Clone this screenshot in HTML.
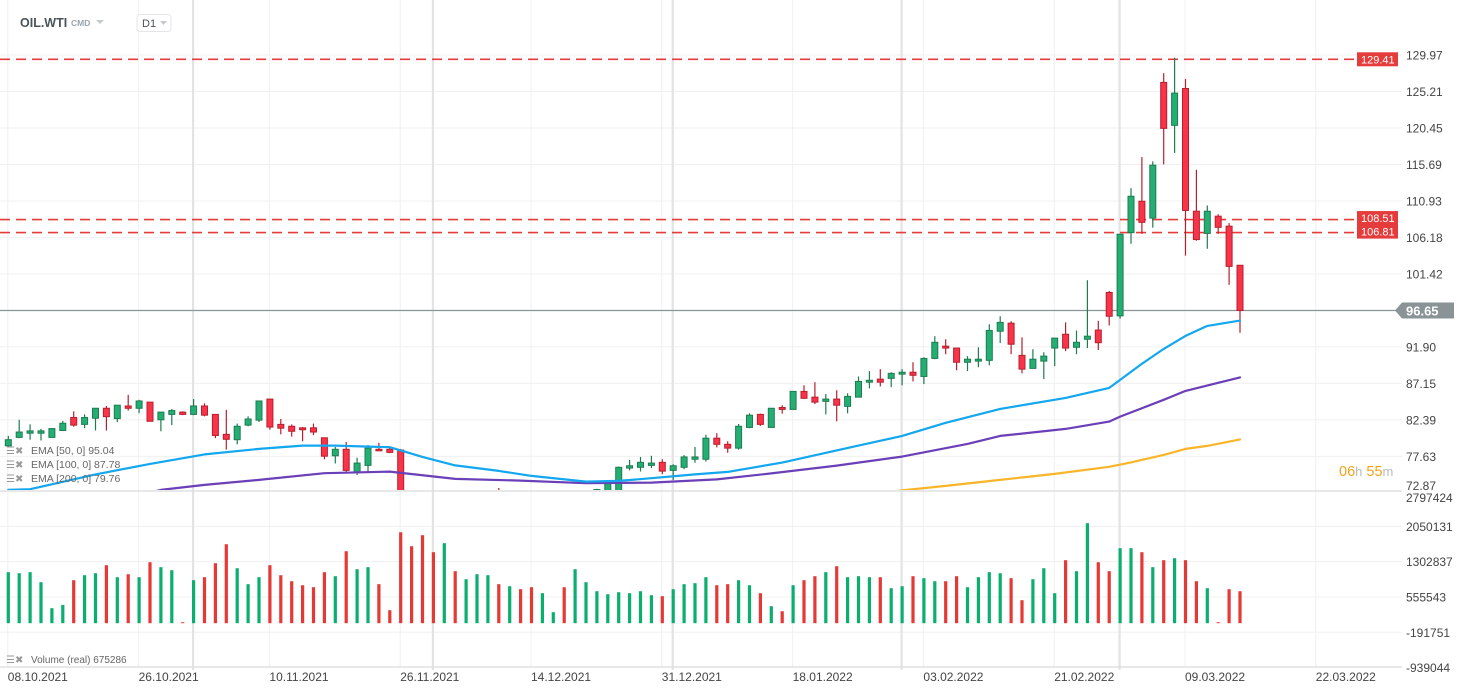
<!DOCTYPE html>
<html><head><meta charset="utf-8"><style>
html,body{margin:0;padding:0;background:#fff;width:1467px;height:692px;overflow:hidden;font-family:"Liberation Sans",sans-serif;}
svg{display:block}
</style></head><body>
<svg id="chart" width="1467" height="692" xmlns="http://www.w3.org/2000/svg" font-family="Liberation Sans, sans-serif">
<defs><clipPath id="priceClip"><rect x="0" y="0" width="1402" height="490"/></clipPath>
<clipPath id="volClip"><rect x="0" y="492" width="1402" height="175"/></clipPath></defs>
<g id="grid"></g>
<g id="lines"></g>
<g id="candles" clip-path="url(#priceClip)"></g>
<g id="emas" clip-path="url(#priceClip)"></g>
<g id="volume" clip-path="url(#volClip)"></g>
<g id="axes"></g>
<g id="overlay">
  <text x="20" y="27" font-size="12.5" font-weight="bold" fill="#4a5358">OIL.WTI</text>
  <text x="71" y="26" font-size="8.5" font-weight="bold" fill="#9aa4aa">CMD</text>
  <path d="M96 20 L104 20 L100 24 Z" fill="#c4c9cc"/>
  <g>
    <rect x="137" y="14.5" width="34" height="17" rx="3" fill="#fff" stroke="#e3e6e8"/>
    <text x="142" y="27" font-size="11" fill="#4a5358">D1</text>
    <path d="M160 21 L167 21 L163.5 25 Z" fill="#c4c9cc"/>
  </g>
  <g font-size="10.5" fill="#666">
    <g><text x="6" y="454" fill="#999" font-size="10">☰✖</text><text x="31" y="454">EMA [50,  0] 95.04</text></g>
    <g><text x="6" y="468" fill="#999" font-size="10">☰✖</text><text x="31" y="468">EMA [100,  0] 87.78</text></g>
    <g><text x="6" y="482" fill="#999" font-size="10">☰✖</text><text x="31" y="482">EMA [200,  0] 79.76</text></g>
  </g>
  <g font-size="10" fill="#666">
    <text x="6" y="663" fill="#999" font-size="10">☰✖</text><text x="31" y="663">Volume  (real)  675286</text>
  </g>
  <text x="1339" y="476" font-size="14.5" fill="#f7a21b">06<tspan fill="#bbb" font-size="13">h</tspan> 55<tspan fill="#bbb" font-size="13">m</tspan></text>
</g>
</svg>
<script>
const opens=[79.0,80.1,80.65,80.65,80.1,81.0,82.7,81.8,82.6,83.9,82.55,84.2,83.9,84.7,82.4,83.1,83.4,83.1,84.2,83.1,80.5,79.8,81.7,82.35,85.1,81.8,81.55,81.35,81.35,80.05,77.7,78.55,75.5,76.45,78.55,78.55,78.45,71.5,69.8,66.5,64.0,66.5,66.0,69.2,71.2,72.3,70.6,71.5,71.2,70.3,71.0,70.5,68.2,71.0,72.4,72.6,72.5,76.1,76.2,76.45,76.85,75.8,76.2,77.25,77.25,80.0,79.2,78.7,81.4,83.1,81.4,84.0,83.75,86.1,85.35,84.8,85.1,84.15,85.35,87.3,87.7,87.8,88.35,88.6,88.05,90.4,92.0,91.75,89.9,90.05,90.15,93.95,95.0,90.8,89.1,90.05,91.75,93.55,91.85,92.9,94.1,99.0,95.95,106.8,110.9,108.7,126.4,120.8,125.6,109.6,106.7,108.95,107.65,102.55];
const highs=[80.3,82.4,81.8,81.2,81.3,82.25,83.5,83.1,83.9,84.2,84.3,85.65,85.0,84.7,83.4,83.8,83.5,85.1,84.55,83.1,83.7,81.9,82.85,84.85,85.1,82.5,81.8,81.45,81.9,80.05,78.85,79.5,77.45,79.1,79.4,78.8,78.6,72.2,70.5,68.0,67.0,67.0,69.5,71.5,72.5,73.5,71.8,72.0,71.6,71.5,71.5,71.0,71.5,72.6,73.4,74.3,76.3,77.15,77.55,77.7,77.25,76.6,77.8,78.85,80.45,80.65,79.6,81.85,83.25,83.2,83.9,84.3,86.1,86.9,87.3,85.75,86.25,85.85,88.05,88.75,89.0,88.6,89.0,89.9,90.55,93.3,92.9,91.75,90.7,91.85,94.85,95.9,95.25,93.15,91.6,91.2,93.05,95.1,94.05,100.6,95.3,99.2,106.65,112.6,116.65,116.1,127.6,129.6,126.85,115.0,110.35,109.2,108.05,102.55];
const lows=[78.9,80.0,79.8,79.7,80.1,81.0,81.5,81.3,81.0,81.0,82.1,83.6,83.25,82.2,80.9,81.7,83.0,83.0,82.85,80.0,78.5,79.2,81.55,82.1,81.1,80.5,80.2,79.6,80.4,77.25,76.7,75.55,75.2,75.55,78.3,78.05,67.8,69.0,64.5,62.5,63.5,64.5,65.8,69.0,70.5,70.0,70.0,70.2,69.8,70.0,70.5,66.5,68.0,70.8,72.0,72.3,72.3,75.8,75.65,76.1,75.3,74.55,75.95,76.8,76.95,78.8,78.1,78.5,81.3,81.6,81.4,83.2,83.75,85.1,84.45,83.1,82.2,83.25,85.3,86.5,86.75,86.65,86.9,87.4,87.05,90.3,90.95,88.85,88.75,89.25,89.5,92.4,90.95,88.45,89.1,87.7,89.4,91.35,90.95,91.75,91.5,94.7,95.6,105.35,106.65,107.45,115.7,117.2,103.8,105.75,104.7,106.65,100.0,93.75];
const closes=[79.8,80.8,80.95,80.95,81.25,81.95,81.7,82.7,83.9,82.8,84.3,83.9,84.85,82.2,83.4,83.6,83.1,84.2,83.0,80.35,79.85,81.55,82.5,84.85,81.45,81.3,80.9,81.1,80.8,77.65,78.55,75.8,76.75,78.7,78.45,78.15,68.2,69.8,65.5,63.5,66.5,65.0,69.2,71.2,72.0,70.6,71.5,70.8,70.3,71.2,71.3,68.2,71.0,72.4,73.3,74.2,76.2,76.4,76.85,76.75,75.7,76.4,77.55,77.55,80.0,79.2,78.7,81.55,83.0,81.8,83.9,83.75,86.1,85.2,84.7,85.1,84.3,85.45,87.4,87.55,87.3,88.45,88.6,88.2,90.4,92.5,91.75,89.9,90.3,90.3,94.05,95.1,92.25,89.0,90.3,90.7,93.05,91.75,92.5,93.3,92.45,95.9,106.6,111.55,108.15,115.6,120.4,125.0,109.7,105.9,109.6,107.5,102.4,96.65];
const volumes=[1080000,1058000,1080000,868000,318000,387000,910000,1016000,1058000,1228000,974000,1037000,974000,1291000,1186000,1122000,21000,910000,974000,1270000,1672000,1164000,826000,974000,1228000,1016000,889000,804000,762000,1080000,995000,1524000,1143000,1186000,826000,275000,1926000,1630000,1863000,1503000,1694000,1101000,931000,1037000,1016000,826000,783000,720000,762000,635000,233000,762000,1143000,868000,677000,614000,656000,635000,677000,593000,572000,720000,826000,847000,974000,804000,826000,910000,804000,635000,360000,254000,804000,910000,995000,1080000,1207000,974000,995000,974000,974000,741000,783000,995000,953000,889000,889000,995000,762000,974000,1080000,1058000,953000,487000,931000,1164000,635000,1334000,1101000,2117000,1291000,1101000,1588000,1588000,1503000,1186000,1334000,1376000,1334000,889000,741000,21000,720000,677000];
const volumeDirs="GGGGGGRGGRGRGRGGRGRRRGGGRRRRRRGRGGRRRRRRGRGGGRGRRGGRGGGGGGGGRGGGGRRGGRGRGRRGRGGGRGGRGGRRGGGGRRGGGRGGRRGGRGRGRRGRRR";
const ema50Idx=[0,2,8,13,18,23,27,30,35,38,41,45,48,53,56,59,63,66,71,78,82,86,91,97,101,102,104,106,108,110,113];
const ema50Val=[73.26,73.35,75.28,76.65,77.88,78.6,79.03,79.03,78.82,77.56,76.45,75.73,75.08,74.34,74.43,74.78,75.28,75.6,76.82,79.03,80.3,82.0,83.82,85.25,86.55,87.6,89.7,91.64,93.34,94.64,95.33];
const ema100Idx=[13,14,18,23,29,35,41,47,53,59,65,70,76,82,88,91,97,101,102,106,108,113];
const ema100Val=[72.9,73.26,73.91,74.56,75.43,75.64,74.69,74.47,74.13,74.21,74.62,75.41,76.42,77.6,79.25,80.3,81.21,82.16,82.81,85.0,86.17,87.92];
const ema200Idx=[81,82,86,91,96,101,103,106,108,110,113];
const ema200Val=[73.0,73.19,73.78,74.56,75.34,76.26,76.84,77.82,78.6,78.99,79.84];
const priceTicks=[129.97,125.21,120.45,115.69,110.93,106.18,101.42,96.65,91.90,87.15,82.39,77.63,72.87];
const volTicks=[2797424,2050131,1302837,555543,-191751,-939044];
const dateLabels=["08.10.2021","26.10.2021","10.11.2021","26.11.2021","14.12.2021","31.12.2021","18.01.2022","03.02.2022","21.02.2022","09.03.2022","22.03.2022"];
const dateIdx=[0,12,24,36,48,60,72,84,96,108,120];
const monthIdx=[17,39,61,82,102];
const levels=[129.41,108.51,106.81];
const lastPrice=96.65;

const NS="http://www.w3.org/2000/svg";
const xOf=i=>8.3+i*10.9;
const yP=p=>55+(129.97-p)*7.668;
const yV=v=>623.2-v/747293*35.3;
function mk(parent,tag,attrs){const e=document.createElementNS(NS,tag);for(const k in attrs)e.setAttribute(k,attrs[k]);parent.appendChild(e);return e;}
const grid=document.getElementById('grid'),axes=document.getElementById('axes'),lines=document.getElementById('lines');
priceTicks.forEach(t=>{const y=yP(t);if(y<489){const l=mk(grid,'line',{x1:0,x2:1402,y1:y,y2:y,stroke:'#f0f0f0','stroke-width':1});

}
const tx=mk(axes,'text',{x:1406,y:Math.min(y+4.5,490),'font-size':12,fill:'#444'});tx.textContent=t.toFixed(2);

});
volTicks.forEach(t=>{const y=yV(t);if(y>495&&y<665){const l=mk(grid,'line',{x1:0,x2:1402,y1:y,y2:y,stroke:'#f0f0f0','stroke-width':1});

}
const tx=mk(axes,'text',{x:1406,y:Math.max(y+4.5,502),'font-size':12,fill:'#444'});tx.textContent=String(t);

});
dateIdx.forEach((d,k)=>{const x=xOf(d)-0.5;const l=mk(grid,'line',{x1:x,x2:x,y1:0,y2:667,stroke:'#f0f0f0','stroke-width':1});


const tx=mk(axes,'text',{x:x,y:681,'font-size':12,fill:'#444'});tx.textContent=dateLabels[k];

});
monthIdx.forEach(m=>{const x=xOf(m)-0.5;const l=mk(grid,'line',{x1:x,x2:x,y1:0,y2:670,stroke:'#e3e3e3','stroke-width':2.2});

});
[[491,'price-pane-border'],[667,'volume-pane-border']].forEach(([y,n])=>{const l=mk(axes,'line',{x1:0,x2:1402,y1:y,y2:y,stroke:'#e0e0e0','stroke-width':1.5});

});
levels.forEach(v=>{const y=yP(v);const l=mk(lines,'line',{x1:0,x2:1356,y1:y,y2:y,stroke:'#e53b3b','stroke-width':1.6,'stroke-dasharray':'10,6'});

});
const lab=[[levels[0],yP(levels[0])],[levels[1],yP(levels[1])-1.5],[levels[2],yP(levels[2])-1]];
lab.forEach(([v,y])=>{const g=mk(axes,'g',{});


mk(g,'rect',{x:1357,y:y-7,width:41,height:14,fill:'#e53b3b'});
const t=mk(g,'text',{x:1361,y:y+4,'font-size':11,fill:'#fff'});t.textContent=v.toFixed(2);});
{const y=yP(lastPrice);const l=mk(lines,'line',{x1:0,x2:1396,y1:y,y2:y,stroke:'#8a9396','stroke-width':1.2});


const g=mk(axes,'g',{});


mk(g,'path',{d:`M1395 ${y} L1402 ${y-8} L1454 ${y-8} L1454 ${y+8} L1402 ${y+8} Z`,fill:'#8a9396'});
const t=mk(g,'text',{x:1406,y:y+5,'font-size':13,'font-weight':'bold',fill:'#fff'});t.textContent=lastPrice.toFixed(2);}
const cg=document.getElementById('candles');
closes.forEach((c,i)=>{const o=opens[i],h=highs[i],l=lows[i];const up=c>=o;
const x=xOf(i);const g=mk(cg,'g',{});


const stroke=up?'#1b7d50':'#b81f2c',fill=up?'#25ae73':'#f8334a';
mk(g,'line',{x1:x,x2:x,y1:yP(h),y2:yP(l),stroke:stroke,'stroke-width':1.2});
const yt=yP(Math.max(o,c)),yb=yP(Math.min(o,c));
mk(g,'rect',{x:x-3,y:yt,width:6,height:Math.max(1.5,yb-yt),fill:fill,stroke:stroke,'stroke-width':1});});
const eg=document.getElementById('emas');
function ema(idx,val,color,name){const d=idx.map((k,j)=>(j?'L':'M')+xOf(k).toFixed(1)+' '+yP(val[j]).toFixed(1)).join(' ');
const p=mk(eg,'path',{d:d,fill:'none',stroke:color,'stroke-width':2.2,'stroke-linejoin':'round','stroke-linecap':'round'});

}
ema(ema200Idx,ema200Val,'#f9b52a','ema200-line');
ema(ema100Idx,ema100Val,'#6a3fb8','ema100-line');
ema(ema50Idx,ema50Val,'#12a7ee','ema50-line');
const vg=document.getElementById('volume');
volumes.forEach((v,i)=>{const x=xOf(i);const y=yV(v);
const r=mk(vg,'rect',{x:x-1.6,y:y,width:3.2,height:Math.max(0.8,yV(0)-y),fill:volumeDirs[i]==='G'?'#0aae6e':'#e53935'});

});
</script>
</body></html>
